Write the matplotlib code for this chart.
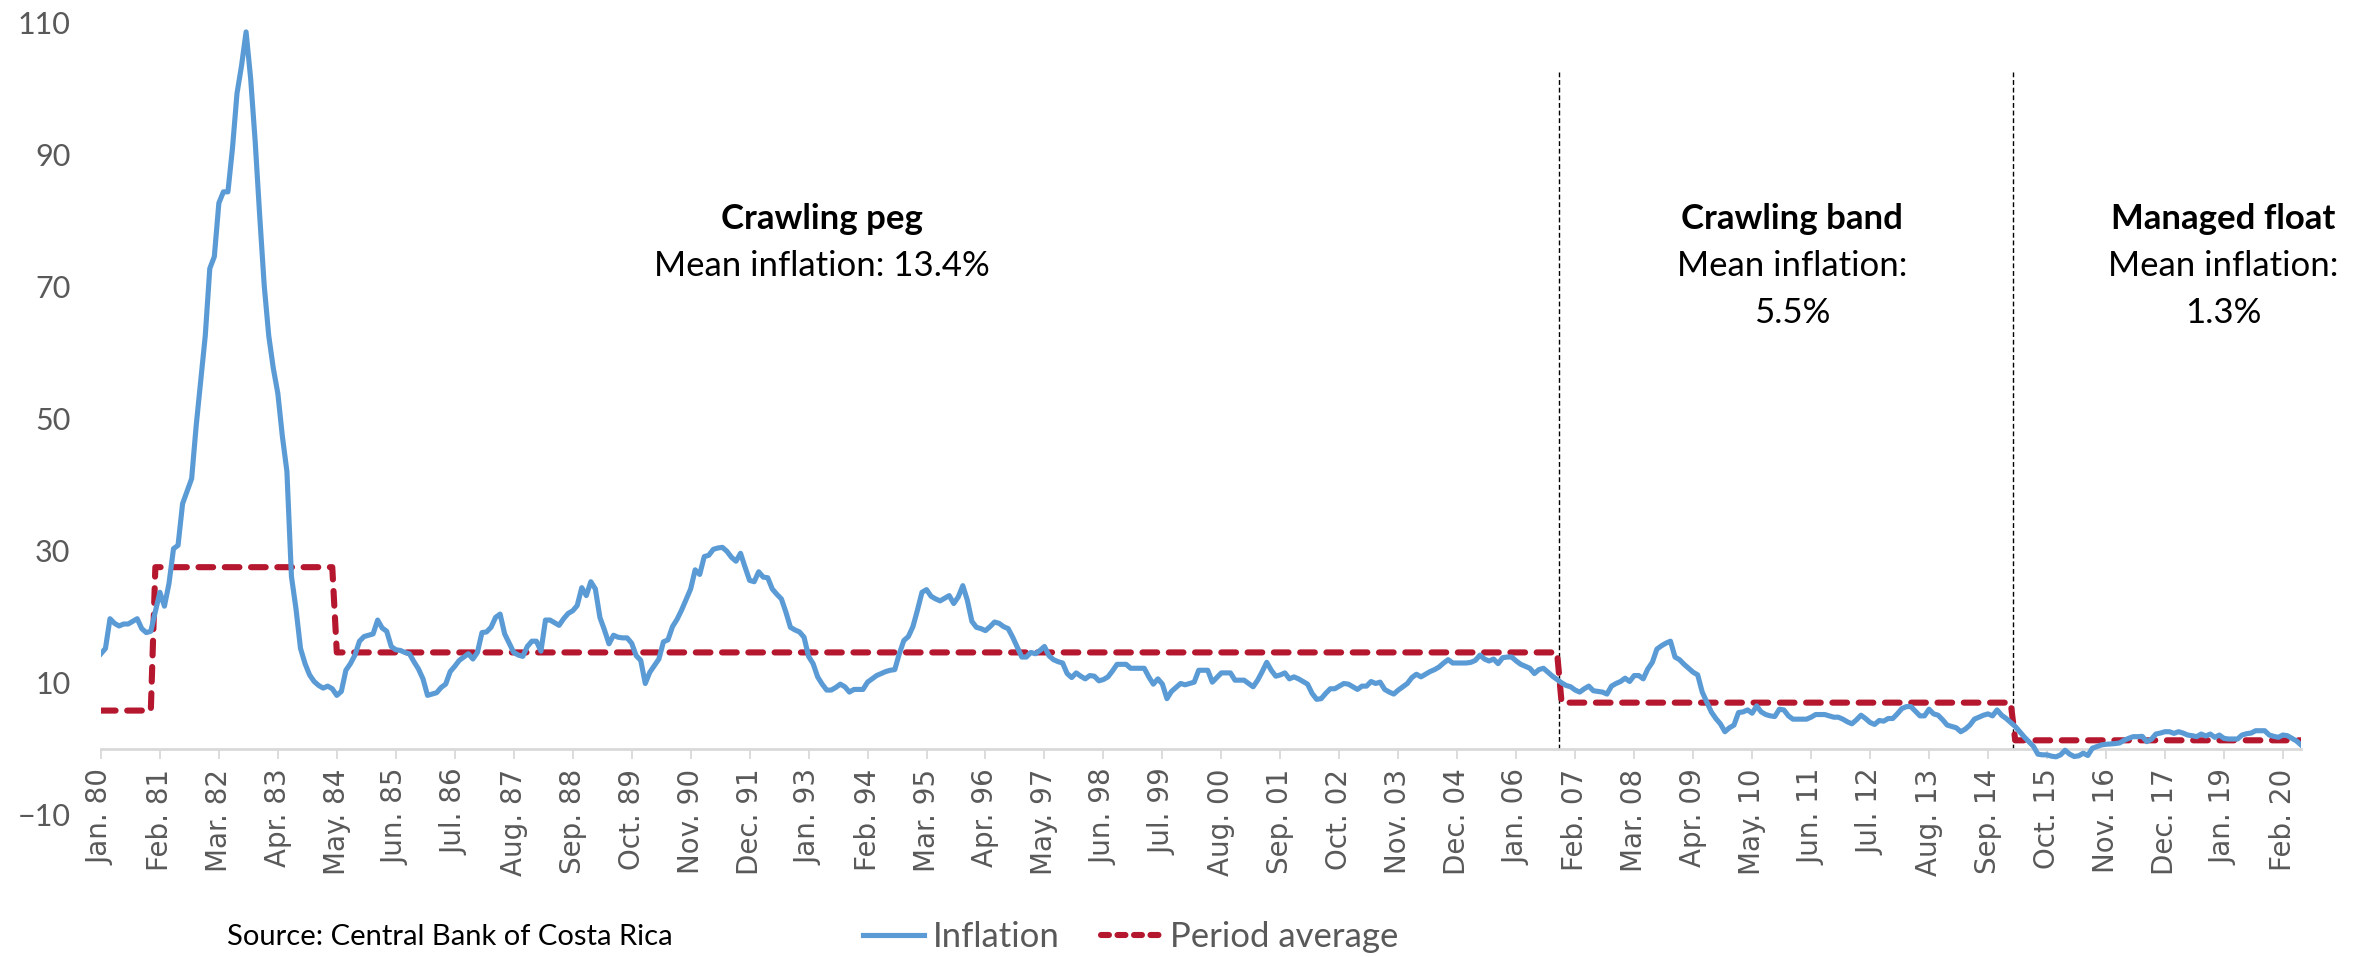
import numpy as np
import matplotlib
matplotlib.use("Agg")
import matplotlib.pyplot as plt
from matplotlib.lines import Line2D

# monthly inflation (%), Jan 1980 - Jun 2020
infl_80s = [
    14.4, 15.2, 19.7, 19.0, 18.6, 18.9, 18.9, 19.3, 19.7, 18.2, 17.6, 17.8,
    20.8, 23.7, 21.6, 25.0, 30.3, 30.8, 37.1, 39.0, 40.9, 48.9, 55.7, 62.5,
    72.7, 74.5, 82.6, 84.3, 84.3, 90.9, 99.2, 103.4, 108.5, 101.5, 92.0, 80.7,
    70.1, 62.5, 57.6, 53.8, 47.3, 42.0, 26.1, 21.2, 15.2, 12.9, 11.2, 10.2,
    9.6, 9.2, 9.5, 9.1, 8.1, 8.7, 11.9, 12.9, 14.2, 16.3, 17.0, 17.2,
    17.4, 19.5, 18.3, 17.8, 15.5, 15.0, 14.9, 14.6, 14.4, 13.2, 12.1, 10.6,
    8.1, 8.3, 8.5, 9.3, 9.8, 11.7, 12.5, 13.4, 13.9, 14.4, 13.6, 14.6,
    17.6, 17.7, 18.4, 19.9, 20.4, 17.4, 16.0, 14.6, 14.2, 14.0, 15.5, 16.3,
    16.3, 14.8, 19.5, 19.5, 19.1, 18.7, 19.7, 20.5, 20.9, 21.7, 24.4, 23.2,
    25.3, 24.2, 19.9, 18.0, 15.9, 17.2, 16.9, 16.8, 16.8, 16.0, 14.1, 13.4,
]
infl_90s = [
    9.9, 11.6, 12.6, 13.6, 16.2, 16.5, 18.5, 19.6, 21.0, 22.6, 24.2, 27.1,
    26.4, 29.1, 29.3, 30.2, 30.4, 30.5, 29.9, 29.0, 28.4, 29.6, 27.5, 25.5,
    25.3, 26.8, 26.0, 25.9, 24.2, 23.4, 22.7, 20.7, 18.4, 18.0, 17.7, 16.9,
    14.0, 12.9, 10.9, 9.8, 8.9, 8.9, 9.3, 9.8, 9.4, 8.6, 9.0, 9.0,
    9.0, 10.1, 10.6, 11.1, 11.4, 11.7, 11.9, 12.0, 14.4, 16.4, 17.0, 18.5,
    21.0, 23.7, 24.1, 23.1, 22.7, 22.4, 22.8, 23.2, 22.0, 23.0, 24.7, 22.5,
    19.3, 18.4, 18.2, 17.9, 18.5, 19.2, 19.0, 18.5, 18.2, 16.9, 15.4, 13.9,
    13.9, 14.6, 14.4, 14.9, 15.5, 14.1, 13.5, 13.2, 13.0, 11.4, 10.8, 11.5,
    11.0, 10.6, 11.1, 11.0, 10.3, 10.5, 10.9, 11.8, 12.8, 12.8, 12.8, 12.2,
    12.2, 12.2, 12.2, 10.9, 9.8, 10.6, 9.8, 7.6, 8.7, 9.3, 9.9, 9.7,
]
infl_00s = [
    9.9, 10.1, 11.9, 11.9, 11.9, 10.1, 10.8, 11.5, 11.5, 11.5, 10.4, 10.4,
    10.4, 9.9, 9.4, 10.4, 11.7, 13.1, 11.9, 11.0, 11.2, 11.5, 10.6, 10.9,
    10.6, 10.2, 9.8, 8.4, 7.5, 7.6, 8.4, 9.1, 9.1, 9.5, 9.9, 9.8,
    9.4, 9.0, 9.5, 9.5, 10.2, 9.9, 10.1, 9.0, 8.6, 8.3, 8.9, 9.4,
    9.9, 10.8, 11.3, 10.9, 11.3, 11.7, 12.0, 12.4, 13.0, 13.5, 13.0, 13.0,
    13.0, 13.0, 13.1, 13.4, 14.2, 13.6, 13.3, 13.6, 12.9, 13.8, 13.9, 13.9,
    13.3, 12.8, 12.5, 12.2, 11.4, 12.0, 12.2, 11.6, 11.0, 10.5, 10.0, 9.6,
    9.4, 8.9, 8.6, 9.1, 9.5, 8.8, 8.7, 8.6, 8.3, 9.5, 9.9, 10.2,
    10.7, 10.2, 11.1, 11.1, 10.6, 12.1, 13.1, 15.1, 15.6, 16.0, 16.3, 13.9,
    13.5, 12.8, 12.2, 11.6, 11.2, 8.6, 7.1, 5.6, 4.6, 3.8, 2.6, 3.2,
]
infl_10s = [
    3.6, 5.5, 5.6, 5.9, 5.4, 6.5, 5.6, 5.2, 5.0, 4.9, 6.0, 5.9,
    5.0, 4.5, 4.5, 4.5, 4.5, 4.8, 5.2, 5.2, 5.2, 5.0, 4.8, 4.8,
    4.5, 4.1, 3.8, 4.4, 5.1, 4.6, 4.0, 3.7, 4.3, 4.2, 4.6, 4.6,
    5.3, 6.1, 6.4, 6.4, 5.7, 5.0, 5.0, 6.0, 5.3, 5.1, 4.4, 3.6,
    3.4, 3.2, 2.6, 3.0, 3.6, 4.5, 4.8, 5.1, 5.3, 5.0, 5.9, 5.1,
    4.6, 4.0, 3.4, 2.6, 1.8, 1.1, 0.4, -0.8, -0.9, -0.9, -1.1, -1.2,
    -0.9, -0.2, -0.8, -1.15, -1.05, -0.65, -1.0, 0.1, 0.35, 0.6, 0.7, 0.75,
    0.8, 0.9, 1.3, 1.6, 1.85, 1.85, 1.9, 1.1, 1.45, 2.25, 2.4, 2.6,
    2.6, 2.35, 2.6, 2.4, 2.1, 2.0, 1.85, 2.25, 1.95, 2.25, 1.75, 2.1,
    1.6, 1.5, 1.5, 1.5, 2.1, 2.3, 2.4, 2.75, 2.75, 2.75, 2.1, 1.9,
]
infl_20s = [1.75, 2.1, 2.0, 1.6, 1.2, 0.6]

# period average line: value and number of months in each block
period_means = [5.8, 27.5, 14.6, 7.0, 1.3]
period_months = [12, 40, 270, 100, 64]

regimes = ["Crawling peg", "Crawling band", "Managed float"]
regime_text = [["Mean inflation: 13.4%"],
               ["Mean inflation:", "5.5%"],
               ["Mean inflation:", "1.3%"]]

tick_labels = ["Jan. 80", "Feb. 81", "Mar. 82", "Apr. 83", "May. 84", "Jun. 85",
               "Jul. 86", "Aug. 87", "Sep. 88", "Oct. 89", "Nov. 90", "Dec. 91",
               "Jan. 93", "Feb. 94", "Mar. 95", "Apr. 96", "May. 97", "Jun. 98",
               "Jul. 99", "Aug. 00", "Sep. 01", "Oct. 02", "Nov. 03", "Dec. 04",
               "Jan. 06", "Feb. 07", "Mar. 08", "Apr. 09", "May. 10", "Jun. 11",
               "Jul. 12", "Aug. 13", "Sep. 14", "Oct. 15", "Nov. 16", "Dec. 17",
               "Jan. 19", "Feb. 20"]

inflation = np.array(infl_80s + infl_90s + infl_00s + infl_10s + infl_20s)
average = np.repeat(period_means, period_months)
months = np.arange(len(inflation))
breaks = np.cumsum(period_months)

blue = "#5B9BD5"
red = "#B5172F"
grey = "#595959"
calibri = ["Lato", "DejaVu Sans"]

fig = plt.figure(figsize=(23.69, 9.57), dpi=100)
ax = fig.add_axes([0.0426, 0.1484, 0.9287, 0.8286])

# axis at zero first, since moving the spine resets the ticks
ax.spines["bottom"].set_position(("data", 0))
ax.spines["bottom"].set_color("#D9D9D9")
ax.spines["bottom"].set_linewidth(2)
for s in ["left", "right", "top"]:
    ax.spines[s].set_visible(False)

ax.plot(months, inflation, color=blue, lw=3.7, solid_joinstyle="round", zorder=3)
ax.plot(months, average, color=red, lw=4.4, dashes=(2.4, 1.9),
        dash_capstyle="round", zorder=2)

# regime changes (crawling band, managed float)
for b in breaks[2:4]:
    ax.plot([b - 0.5, b - 0.5], [0, 102.5], color="black", lw=1.0,
            dashes=(3.5, 2), zorder=1)

ax.set_xlim(0, len(inflation) - 1)
ax.set_ylim(-10, 110)
ax.set_yticks(np.arange(-10, 111, 20))
ax.set_xticks(np.arange(0, len(inflation), 13))
ax.set_xticklabels(tick_labels)
ax.tick_params(axis="x", length=7.2, width=1.3, color="#D9D9D9", pad=7,
               labelrotation=90, labelsize=20, labelcolor=grey)
ax.tick_params(axis="y", length=0, pad=22, labelsize=22, labelcolor=grey)
for lab in ax.get_xticklabels():
    lab.set_family("DejaVu Sans")
for lab in ax.get_yticklabels():
    lab.set_family(calibri)

# regime annotations
label_x = [0.347, 0.7564, 0.9385]
for x, name, lines in zip(label_x, regimes, regime_text):
    fig.text(x, 0.771, name, ha="center", va="center", fontsize=25,
             fontweight="bold", family=calibri)
    for k, line in enumerate(lines):
        fig.text(x, 0.722 - 0.049 * k, line, ha="center", va="center",
                 fontsize=25, family=calibri)

fig.text(0.096, 0.021, "Source: Central Bank of Costa Rica", fontsize=21,
         family=calibri, va="center")

handles = [Line2D([], [], color=blue, lw=3.7),
           Line2D([], [], color=red, lw=4.4, dashes=(1.3, 1.4),
                  dash_capstyle="round")]
leg = fig.legend(handles, ["Inflation", "Period average"], loc="center",
                 bbox_to_anchor=(0.4774, 0.021), ncol=2, frameon=False,
                 handlelength=1.75, columnspacing=1.2, handletextpad=0.25,
                 prop={"family": calibri, "size": 25})
for t in leg.get_texts():
    t.set_color(grey)

fig.savefig("out.png", dpi=100)
